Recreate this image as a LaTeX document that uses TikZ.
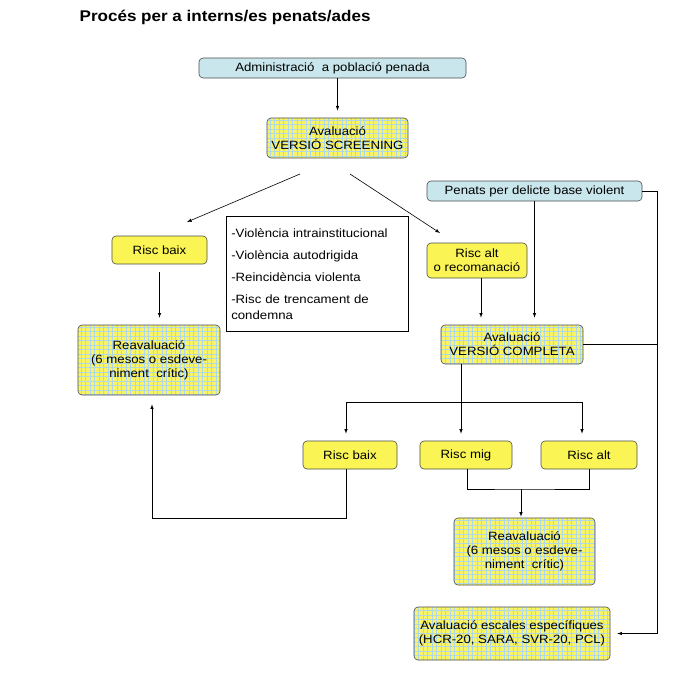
\documentclass[tikz,border=0pt]{standalone}
\usepackage{fontspec}
\setmainfont[FakeStretch=1.1]{Liberation Sans}
\usetikzlibrary{arrows,patterns.meta}
\definecolor{blauclar}{RGB}{200,230,235}
\definecolor{groc}{RGB}{250,245,85}
\definecolor{grocclar}{RGB}{248,244,100}
\definecolor{blaupat}{RGB}{175,215,232}
\tikzset{
  caixa/.style={draw=gray!60!black,rounded corners=4pt,align=center,inner sep=2pt,font=\fontsize{12}{14}\selectfont},
  blava/.style={caixa,fill=blauclar},
  groga/.style={caixa,fill=groc},
  tramada/.style={caixa,preaction={fill=grocclar},pattern={Hatch[distance=4.5pt,line width=0.9pt]},pattern color=blaupat},
  fletxa/.style={->,shorten >=7pt}
}
\begin{document}
\begin{tikzpicture}[x=1pt,y=-1pt,>=latex,line width=.6pt]
      \useasboundingbox (0,0) rectangle (699,678);
      \node[anchor=west,font=\fontsize{15.5}{18}\selectfont\bfseries] (titol) at (76,17) {Procés per a interns/es penats/ades};
      %top part
      \node[blava,minimum width=267pt,minimum height=20pt] (admin) at (332.5,68) {Administració \ a població penada};
      \node[tramada,minimum width=141pt,minimum height=40pt] (screen) at (337.5,138) {Avaluació\\VERSIÓ SCREENING};
      \node[draw,anchor=north west,text width=172pt,minimum height=115pt,align=left,inner sep=5pt,font=\fontsize{12}{16}\selectfont] (llista) at (226,216)
      {-Violència intrainstitucional\\[6pt] -Violència autodrigida\\[6pt] -Reincidència violenta\\[6pt] -Risc de trencament de\\condemna};
      \node[groga,minimum width=95pt,minimum height=28pt] (baix1) at (159.5,250) {Risc baix};
      \node[tramada,minimum width=142pt,minimum height=70pt] (reav1) at (149,360) {Reavaluació\\(6 mesos o esdeve-\\niment \ crític)};
      \node[blava,minimum width=215pt,minimum height=20pt] (penats) at (534.5,191) {Penats per delicte base violent};
      \node[groga,minimum width=100pt,minimum height=35pt] (alt1) at (477,260.5) {Risc alt\\o recomanació};
      \node[tramada,minimum width=142pt,minimum height=39pt] (completa) at (512,344.5) {Avaluació\\VERSIÓ COMPLETA};
      %bottom part
      \node[groga,minimum width=94pt,minimum height=28pt] (baix2) at (350,455) {Risc baix};
      \node[groga,minimum width=92pt,minimum height=28pt] (mig) at (466,455) {Risc mig};
      \node[groga,minimum width=96pt,minimum height=28pt] (alt2) at (589,455) {Risc alt};
      \node[tramada,minimum width=141pt,minimum height=67pt] (reav2) at (524.5,551.5) {Reavaluació\\(6 mesos o esdeve-\\niment \ crític)};
      \node[tramada,minimum width=196pt,minimum height=53pt] (escales) at (512,633.5) {Avaluació escales específiques\\(HCR-20, SARA, SVR-20, PCL)};
      %connectors
      \coordinate (e1) at (300,174);
      \coordinate (e2) at (350,174);
      \coordinate (d1) at (187,222);
      \coordinate (d2) at (440,233);
      \coordinate (bus) at (657,192);
      \coordinate (fork) at (461,402);
      \coordinate (join) at (521,489);
      \coordinate (loop) at (152,518);
      \draw[fletxa] (admin.south -| screen.north) -- (screen.north);
      \draw[->] (e1) -- (d1);
      \draw[->] (e2) -- (d2);
      \draw[fletxa,shorten <=8pt] (baix1.south) -- (baix1.south |- reav1.north);
      \draw[fletxa] ([xshift=4pt]alt1.south) -- ([xshift=4pt]alt1.south |- completa.north);
      \draw[fletxa] (penats.south) -- (penats.south |- completa.north);
      \draw[fletxa] (penats.east) -| (bus |- escales.east) -- (escales.east);
      \draw (completa.east) -- (completa.east -| bus);
      \draw (completa.south -| fork) -- (fork);
      \draw[fletxa] (fork) -| ([xshift=-4pt]baix2.north);
      \draw[fletxa] (fork) -- (fork |- mig.north);
      \draw[fletxa] (fork) -| ([xshift=-7pt]alt2.north);
      \draw[->,shorten >=9pt] ([xshift=-4pt]baix2.south) |- (loop) -- (loop |- reav1.south);
      \draw ([xshift=1pt]mig.south) |- (join) -| (alt2.south);
      \draw[fletxa,shorten >=1pt] (join) -- (join |- reav2.north);
    \end{tikzpicture}
\end{document}
